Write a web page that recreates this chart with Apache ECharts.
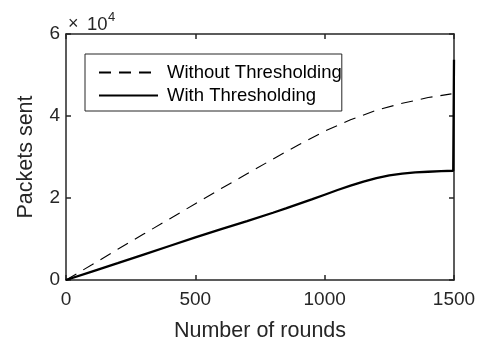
<!DOCTYPE html>
<html>
<head>
<meta charset="utf-8">
<script src="https://cdn.jsdelivr.net/npm/echarts@6/dist/echarts.min.js"></script>
<style>
  html, body { margin: 0; padding: 0; background: #fff; }
  #chart { width: 486px; height: 347px; }
</style>
</head>
<body>
<div id="chart"></div>
<script>
// Packets sent versus number of rounds, with and without thresholding
const roundsWithout = [0, 100, 200, 300, 400, 500, 600, 700, 800, 900, 1000, 1100, 1200, 1300, 1400, 1490];
const packetsWithout = [0, 3700, 7500, 11200, 14900, 18600, 22300, 25900, 29500, 33000, 36300, 39100, 41400, 43100, 44500, 45400];

const roundsWith = [0, 100, 200, 300, 400, 500, 600, 700, 800, 850, 900, 950, 1000, 1050, 1100, 1150, 1200, 1250, 1300, 1350, 1400, 1450, 1497, 1500];
const packetsWith = [0, 2050, 4100, 6200, 8300, 10400, 12400, 14350, 16400, 17450, 18550, 19650, 20800, 21950, 23000, 24000, 24850, 25500, 25950, 26250, 26400, 26550, 26650, 53700];

const seriesNames = ['Without Thresholding', 'With Thresholding'];
const xTicks = { min: 0, max: 1500, step: 500 };
const yTicks = { min: 0, max: 60000, step: 20000, scale: 10000 };

const pairs = (xs, ys) => xs.map((x, i) => [x, ys[i]]);

const ink = '#262626';
const font = '"Liberation Sans", Arial, Helvetica, sans-serif';

const chart = echarts.init(document.getElementById('chart'), null, { renderer: 'canvas' });

const frameAxis = {
  axisLine: { show: true, onZero: false, lineStyle: { color: ink, width: 1.5 } },
  axisTick: { show: true, inside: true, length: 5, lineStyle: { color: ink, width: 1.5 } },
  splitLine: { show: false }
};

chart.setOption({
  animation: false,
  backgroundColor: '#fff',
  grid: { left: 66, right: 32, top: 34, bottom: 66, containLabel: false },
  xAxis: [
    Object.assign({
      type: 'value', position: 'bottom',
      min: xTicks.min, max: xTicks.max, interval: xTicks.step,
      name: 'Number of rounds', nameLocation: 'middle', nameGap: 40,
      nameTextStyle: { fontFamily: font, fontSize: 21.5, color: ink },
      axisLabel: { margin: 10, fontFamily: font, fontSize: 19, color: ink,
        formatter: v => String(v) }
    }, frameAxis),
    Object.assign({
      type: 'value', position: 'top',
      min: xTicks.min, max: xTicks.max, interval: xTicks.step,
      axisLabel: { show: false }
    }, frameAxis)
  ],
  yAxis: [
    Object.assign({
      type: 'value', position: 'left',
      min: yTicks.min, max: yTicks.max, interval: yTicks.step,
      name: 'Packets sent', nameLocation: 'middle', nameGap: 29, nameRotate: 90,
      nameTextStyle: { fontFamily: font, fontSize: 21.5, color: ink },
      axisLabel: { margin: 6, fontFamily: font, fontSize: 19, color: ink,
        formatter: v => String(v / yTicks.scale) }
    }, frameAxis),
    Object.assign({
      type: 'value', position: 'right',
      min: yTicks.min, max: yTicks.max, interval: yTicks.step,
      axisLabel: { show: false }
    }, frameAxis)
  ],
  legend: {
    orient: 'vertical',
    left: 85, top: 54,
    padding: [9, 0, 6, 13],
    itemWidth: 59, itemHeight: 20, itemGap: 4,
    backgroundColor: '#fff',
    borderColor: ink, borderWidth: 1,
    itemStyle: { opacity: 0 },
    textStyle: { fontFamily: font, fontSize: 18.5, color: '#000', padding: [0, 0, 0, 4] },
    data: seriesNames
  },
  series: [
    {
      name: seriesNames[0], type: 'line',
      data: pairs(roundsWithout, packetsWithout),
      showSymbol: false, symbol: 'none',
      lineStyle: { color: '#000', width: 1.1, type: [12, 8] },
      itemStyle: { color: '#000' },
      z: 3
    },
    {
      name: seriesNames[1], type: 'line',
      data: pairs(roundsWith, packetsWith),
      showSymbol: false, symbol: 'none',
      lineStyle: { color: '#000', width: 2.3 },
      itemStyle: { color: '#000' },
      z: 4
    }
  ],
  graphic: [
    { type: 'text', left: 68, top: 15,
      style: { text: '×', fontFamily: font, fontSize: 18, fill: ink } },
    { type: 'text', left: 87, top: 15,
      style: { text: '10', fontFamily: font, fontSize: 18.5, fill: ink } },
    { type: 'text', left: 108, top: 11,
      style: { text: '4', fontFamily: font, fontSize: 13, fill: ink } }
  ]
});
</script>
</body>
</html>
